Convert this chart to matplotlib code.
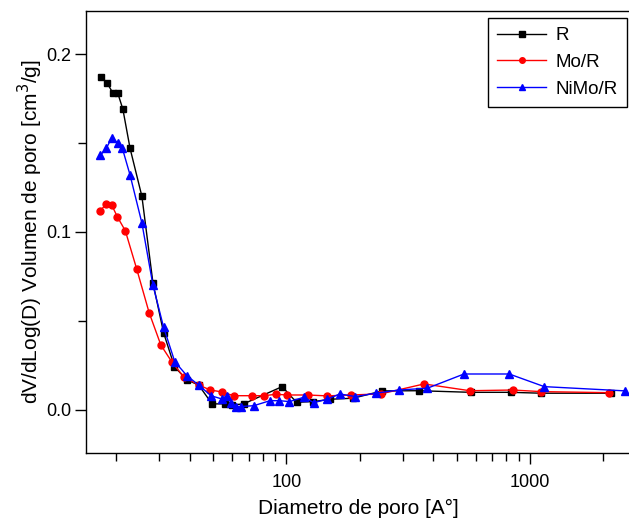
import matplotlib
matplotlib.use("Agg")
import matplotlib.pyplot as plt
from matplotlib.ticker import FixedLocator, NullFormatter, FormatStrFormatter

plt.rcParams['font.family'] = ['Liberation Sans', 'DejaVu Sans']

# Series R (black squares)
r_x = [17.3, 18.3, 19.4, 20.3, 21.3, 22.8, 25.5, 28.3, 31.3, 34.7, 39.0, 43.6,
       49.5, 55.7, 59.8, 66.7, 96.0, 110, 128.8, 151.6, 188, 247.6, 350.6, 571.7,
       835, 1111, 2149]
r_y = [0.187, 0.184, 0.178, 0.178, 0.169, 0.147, 0.120, 0.0715, 0.0434, 0.0243,
       0.0169, 0.014, 0.0034, 0.0034, 0.0028, 0.0034, 0.0131, 0.0043, 0.0047,
       0.006, 0.0066, 0.0107, 0.0108, 0.0099, 0.0099, 0.0094, 0.0094]

# Series Mo/R (red circles)
mo_x = [17.2, 18.2, 19.2, 20.2, 21.8, 24.3, 27.3, 30.5, 33.8, 37.8, 43.6, 48.7,
        54.4, 60.7, 72.2, 80.7, 90.7, 101, 122.4, 147, 183.4, 243.7, 367.3,
        566.6, 849, 1111, 2118]
mo_y = [0.112, 0.1157, 0.115, 0.1086, 0.1007, 0.079, 0.0547, 0.0365, 0.0271,
        0.0187, 0.014, 0.0112, 0.0101, 0.008, 0.008, 0.008, 0.0088, 0.0084,
        0.0084, 0.0079, 0.0084, 0.009, 0.0146, 0.0108, 0.0112, 0.0103, 0.0097]

# Series NiMo/R (blue triangles)
nimo_x = [17.2, 18.2, 19.2, 20.3, 21.2, 22.8, 25.5, 28.3, 31.3, 34.8, 39.0, 43.6,
          49.0, 54.2, 56.9, 59.3, 62.2, 65.0, 73.5, 85.6, 93.5, 102.9, 117.8,
          129.5, 147, 165.6, 192, 232.3, 290, 379, 536, 822, 1145, 2466]
nimo_y = [0.143, 0.147, 0.153, 0.150, 0.147, 0.132, 0.105, 0.0702, 0.0465,
          0.0271, 0.0193, 0.014, 0.008, 0.0062, 0.008, 0.0041, 0.0019, 0.0019,
          0.0024, 0.0052, 0.0052, 0.0047, 0.0071, 0.0041, 0.006, 0.009, 0.0075,
          0.0094, 0.0112, 0.0122, 0.0202, 0.0202, 0.0131, 0.0107]

labels = ["R", "Mo/R", "NiMo/R"]
y_ticks = [0.0, 0.1, 0.2]
x_ticks = [100, 1000]

W, H = 629, 521
fig = plt.figure(figsize=(W / 100, H / 100), dpi=100)
ax = fig.add_axes([86 / W, 1 - 453 / H, (W + 2 - 86) / W, (453 - 11) / H])

ax.plot(r_x, r_y, color='black', lw=1.0, marker='s', ms=5, label=labels[0])
ax.plot(mo_x, mo_y, color='#ff0000', lw=1.0, marker='o', ms=5, label=labels[1])
ax.plot(nimo_x, nimo_y, color='#0000ff', lw=1.0, marker='^', ms=6, label=labels[2])

ax.set_xscale('log')
ax.set_xlim(15.03, 2600)
ax.set_ylim(-0.0242, 0.2242)

ax.xaxis.set_major_locator(FixedLocator(x_ticks))
ax.xaxis.set_major_formatter(FormatStrFormatter('%d'))
ax.xaxis.set_minor_formatter(NullFormatter())
ax.yaxis.set_major_locator(FixedLocator(y_ticks))
ax.yaxis.set_minor_locator(FixedLocator([0.05, 0.15]))
ax.yaxis.set_major_formatter(FormatStrFormatter('%.1f'))

ax.tick_params(which='major', direction='out', length=8, width=1, labelsize=13,
               top=False, right=False)
ax.tick_params(which='minor', direction='out', length=6, width=1, top=False, right=False)
ax.tick_params(axis='x', which='major', pad=7)
ax.tick_params(axis='y', which='major', pad=2.5)
ax.spines['right'].set_visible(False)
for s in ['left', 'bottom', 'top']:
    ax.spines[s].set_linewidth(1.0)

ax.set_xlabel('Diametro de poro [A°]', fontsize=15, labelpad=6)
ax.set_ylabel('dV/dLog(D) Volumen de poro [cm$^3$/g]', fontsize=15, labelpad=1)

leg = ax.legend(loc='upper right', bbox_to_anchor=(627 / W, 1 - 18 / H),
                bbox_transform=fig.transFigure, borderaxespad=0, fancybox=False,
                framealpha=1, edgecolor='black', fontsize=13.5, handlelength=2.6,
                handletextpad=0.5, borderpad=0.5, labelspacing=0.5, markerscale=0.8)
leg.get_frame().set_linewidth(1.0)

fig.savefig('out.png', dpi=100)
